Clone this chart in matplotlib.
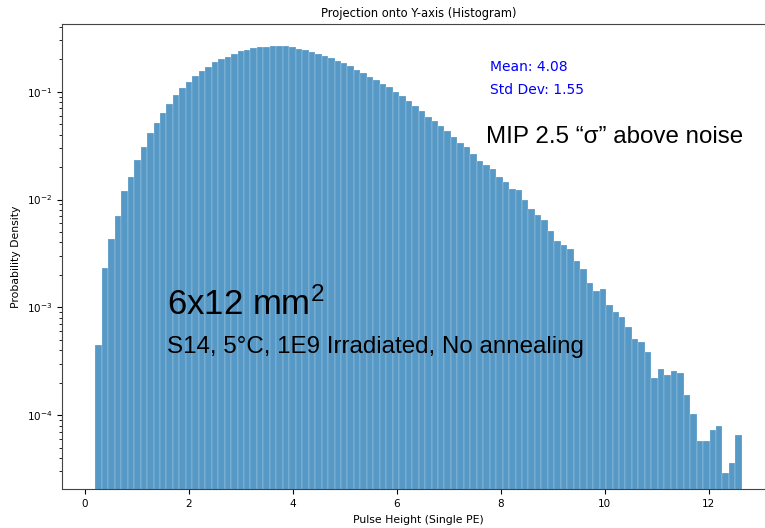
import numpy as np
import matplotlib
matplotlib.use("Agg")
import matplotlib.pyplot as plt

# Histogram range and density values
bin_start = 0.208
bin_stop = 12.64
density = [
    4.46e-4, 2.31e-3, 4.31e-3, 7.06e-3, 1.19e-2, 1.63e-2, 2.32e-2, 3.06e-2, 4.10e-2, 5.15e-2,
    6.30e-2, 7.73e-2, 9.25e-2, 0.108, 0.124, 0.139, 0.155, 0.170, 0.187, 0.200,
    0.211, 0.222, 0.237, 0.245, 0.252, 0.259, 0.258, 0.268, 0.263, 0.266,
    0.259, 0.250, 0.242, 0.233, 0.223, 0.214, 0.204, 0.192, 0.183, 0.173,
    0.158, 0.148, 0.137, 0.128, 0.119, 0.110, 0.099, 0.091, 0.0824, 0.0734,
    0.0665, 0.0578, 0.0530, 0.0480, 0.0429, 0.0377, 0.0336, 0.0304, 0.0264, 0.0229,
    0.0207, 0.0190, 0.0163, 0.0145, 0.0124, 0.0122, 0.00986, 0.00809, 0.00711, 0.00650,
    0.00509, 0.00411, 0.00375, 0.00349, 0.00270, 0.00228, 0.00169, 0.00142, 0.00147, 0.00105,
    9.01e-4, 8.17e-4, 6.60e-4, 5.04e-4, 4.75e-4, 3.84e-4, 2.20e-4, 2.65e-4, 2.35e-4, 2.58e-4,
    2.44e-4, 1.53e-4, 1.02e-4, 5.78e-5, 5.78e-5, 7.26e-5, 7.96e-5, 2.88e-5, 3.59e-5, 6.52e-5,
]
title = "Projection onto Y-axis (Histogram)"
xlabel = "Pulse Height (Single PE)"
ylabel = "Probability Density"
stats_lines = ["Mean: 4.08", "Std Dev: 1.55"]
note_mip = "MIP 2.5 \u201c\u03c3\u201d above noise"
note_size = "6x12 mm$^2$"
note_cond = "S14, 5\u00b0C, 1E9 Irradiated, No annealing"

plt.rcParams["mathtext.rm"] = "Liberation Sans"
plt.rcParams["mathtext.it"] = "Liberation Sans:italic"

W, H = 765, 528
fig = plt.figure(figsize=(W / 100, H / 100), dpi=100)
ax = fig.add_axes([62.3 / W, (H - 489.3) / H, 712.3 / W, (489.3 - 24) / H])

edges = np.linspace(bin_start, bin_stop, len(density) + 1)
widths = np.diff(edges)
ax.bar(edges[:-1], density, width=widths, align="edge", color="tab:blue",
       alpha=0.75, edgecolor="white", linewidth=0.2)
ax.set_yscale("log")
ax.set_xlim(-0.427, 13.27)
ax.set_ylim(2.05e-5, 0.425)
ax.set_xticks([0, 2, 4, 6, 8, 10, 12])
ax.tick_params(labelsize=7.5)
for s in ax.spines.values():
    s.set_color("#444444")

ax.set_title(title, fontsize=8.3, pad=5)
ax.set_xlabel(xlabel, fontsize=7.8, labelpad=4)
ax.set_ylabel(ylabel, fontsize=7.8)

fig.text(490 / W, 1 - 70.7 / H, stats_lines[0], color="blue", fontsize=10, va="baseline")
fig.text(490 / W, 1 - 94.3 / H, stats_lines[1], color="blue", fontsize=10, va="baseline")
fig.text(486 / W, 1 - 143.3 / H, note_mip, fontsize=17.4, family="Liberation Sans", va="baseline")
fig.text(167 / W, 1 - 314.3 / H, note_size, fontsize=25, family="Liberation Sans",
         va="baseline", math_fontfamily="custom")
fig.text(167 / W, 1 - 353.3 / H, note_cond, fontsize=17.4, family="Liberation Sans", va="baseline")

fig.savefig("out.png", dpi=100)
